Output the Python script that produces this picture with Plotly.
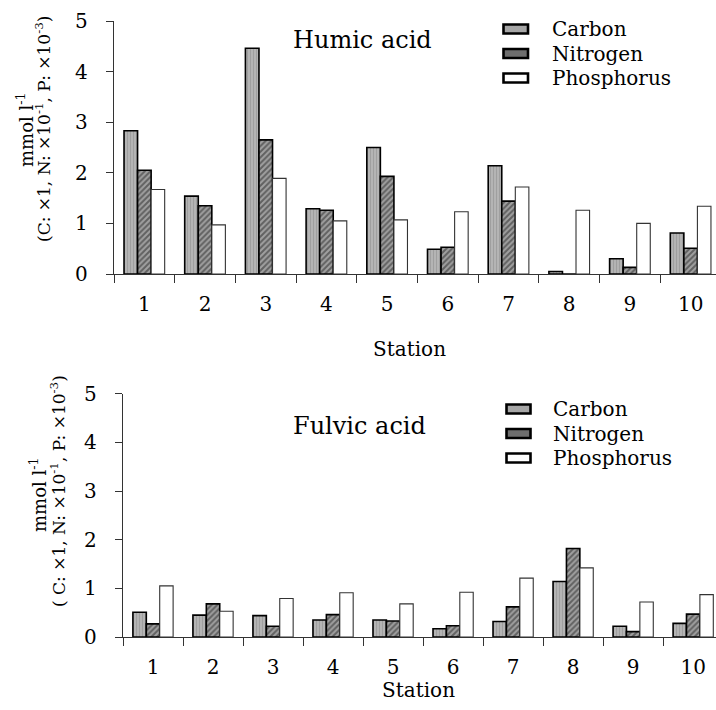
import plotly.graph_objects as go

stations = ["1", "2", "3", "4", "5", "6", "7", "8", "9", "10"]

humic_carbon = [2.83, 1.54, 4.46, 1.29, 2.50, 0.49, 2.14, 0.05, 0.30, 0.81]
humic_nitrogen = [2.05, 1.35, 2.65, 1.26, 1.93, 0.53, 1.44, 0.0, 0.13, 0.51]
humic_phosphorus = [1.67, 0.97, 1.89, 1.05, 1.07, 1.23, 1.72, 1.26, 1.00, 1.34]

fulvic_carbon = [0.51, 0.45, 0.44, 0.35, 0.35, 0.17, 0.32, 1.14, 0.22, 0.28]
fulvic_nitrogen = [0.27, 0.68, 0.22, 0.46, 0.33, 0.23, 0.62, 1.82, 0.11, 0.47]
fulvic_phosphorus = [1.05, 0.53, 0.79, 0.91, 0.68, 0.92, 1.21, 1.42, 0.72, 0.87]

y_ticks = [0, 1, 2, 3, 4, 5]
legend_names = ["Carbon", "Nitrogen", "Phosphorus"]
legend_box_fills = ["#a6a6a6", "#6e6e6e", "white"]

FONT = "DejaVu Serif"
W, H = 716, 710

def px(x):
    return x / W

def py(y):
    return 1 - y / H

carbon_marker = dict(color="#a8a8a8",
                     pattern=dict(shape="|", size=3, solidity=0.35, fgcolor="#8a8a8a", bgcolor="#b4b4b4"),
                     line=dict(color="black", width=1.6))
nitrogen_marker = dict(color="#555555",
                       pattern=dict(shape="/", size=4, solidity=0.5, fgcolor="#222222", bgcolor="#a0a0a0"),
                       line=dict(color="black", width=1.6))
phos_marker = dict(color="white", line=dict(color="#333333", width=1.1))

fig = go.Figure()

series = [
    (humic_carbon, humic_nitrogen, humic_phosphorus, "x", "y"),
    (fulvic_carbon, fulvic_nitrogen, fulvic_phosphorus, "x2", "y2"),
]
for c, n, p, xa, ya in series:
    fig.add_trace(go.Bar(x=stations, y=c, name="Carbon", marker=carbon_marker, xaxis=xa, yaxis=ya, showlegend=False))
    fig.add_trace(go.Bar(x=stations, y=n, name="Nitrogen", marker=nitrogen_marker, xaxis=xa, yaxis=ya, showlegend=False))
    fig.add_trace(go.Bar(x=stations, y=p, name="Phosphorus", marker=phos_marker, xaxis=xa, yaxis=ya, showlegend=False))

axis_common = dict(showline=True, linecolor="#333333", linewidth=1.3, ticks="outside",
                   tickcolor="#333333", tickwidth=1.3, showgrid=False, zeroline=False,
                   automargin=False,
                   tickfont=dict(family=FONT, size=20, color="black"))

fig.update_layout(
    width=W, height=H,
    margin=dict(l=0, r=0, t=0, b=0, autoexpand=False),
    paper_bgcolor="white", plot_bgcolor="white",
    barmode="group", bargap=0.33, bargroupgap=0,
    font=dict(family=FONT, color="black"),
    showlegend=False,
    xaxis=dict(domain=[px(114), 1], anchor="y", type="category", range=[-0.5, 9.418],
               tickson="boundaries", ticklen=8, ticklabelstandoff=12, **axis_common),
    yaxis=dict(domain=[py(274), py(21)], anchor="x", range=[0, 5], tickvals=y_ticks,
               ticklen=7, ticklabelstandoff=14, **axis_common),
    xaxis2=dict(domain=[px(123), 1], anchor="y2", type="category", range=[-0.5, 9.38],
                tickson="boundaries", ticklen=8, ticklabelstandoff=12, **axis_common),
    yaxis2=dict(domain=[py(637), py(393.7)], anchor="x2", range=[0, 5], tickvals=y_ticks,
                ticklen=7, ticklabelstandoff=14, **axis_common),
)

# custom legends (box + label) for each panel
legend_specs = [
    dict(x0=503.5, x1=528, tx=550, rows=[29, 53.5, 78]),
    dict(x0=506.5, x1=530.5, tx=551, rows=[409, 433.5, 458]),
]
for spec in legend_specs:
    for name, fill, yc in zip(legend_names, legend_box_fills, spec["rows"]):
        fig.add_shape(type="rect", xref="paper", yref="paper",
                      x0=px(spec["x0"]), x1=px(spec["x1"]), y0=py(yc + 4.5), y1=py(yc - 4.5),
                      fillcolor=fill, line=dict(color="black", width=2.6))
        fig.add_annotation(text=name, x=px(spec["tx"]), y=py(yc), xref="paper", yref="paper",
                           xanchor="left", yanchor="middle", showarrow=False,
                           font=dict(family=FONT, size=20, color="black"))

ann = [
    dict(text="Humic acid", x=px(291), y=py(40), xanchor="left", yanchor="middle", size=24, angle=0),
    dict(text="Fulvic acid", x=px(291), y=py(426), xanchor="left", yanchor="middle", size=24, angle=0),
    dict(text="Station", x=px(409), y=py(349), xanchor="center", yanchor="middle", size=20, angle=0),
    dict(text="Station", x=px(418), y=py(690), xanchor="center", yanchor="middle", size=20, angle=0),
    dict(text="mmol l<sup>-1</sup>", x=px(25), y=py(130), xanchor="center", yanchor="middle", size=18, angle=-90),
    dict(text="(C: \u00d71, N: \u00d710<sup>-1</sup>, P: \u00d710<sup>-3</sup>)", x=px(43), y=py(129),
         xanchor="center", yanchor="middle", size=17, angle=-90),
    dict(text="mmol l<sup>-1</sup>", x=px(38), y=py(495), xanchor="center", yanchor="middle", size=18, angle=-90),
    dict(text="( C: \u00d71, N: \u00d710<sup>-1</sup>, P: \u00d710<sup>-3</sup>)", x=px(58), y=py(491),
         xanchor="center", yanchor="middle", size=17, angle=-90),
]
for a in ann:
    fig.add_annotation(text=a["text"], x=a["x"], y=a["y"], xref="paper", yref="paper",
                       xanchor=a["xanchor"], yanchor=a["yanchor"], showarrow=False,
                       textangle=a["angle"], font=dict(family=FONT, size=a["size"], color="black"))

fig.write_html("out.html", config={"displayModeBar": False},
               post_script="document.body.style.margin='0px';document.body.style.overflow='hidden';")
